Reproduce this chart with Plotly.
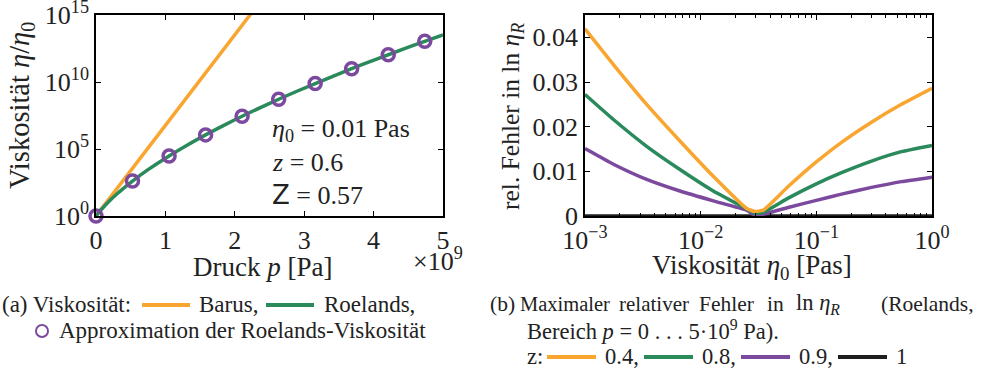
import plotly.graph_objects as go

# ---------------- data: (a) viscosity vs pressure ----------------
pressure_curve = [0, 0.05e9, 0.1e9, 0.2e9, 0.3e9, 0.4e9, 0.526e9, 0.75e9, 1.053e9, 1.3e9,
                  1.579e9, 1.842e9, 2.105e9, 2.368e9, 2.632e9, 2.895e9, 3.158e9, 3.421e9,
                  3.684e9, 3.947e9, 4.211e9, 4.474e9, 4.737e9, 5.0e9]
roelands_curve = [1.0, 2.09, 4.14, 14.3, 43.7, 122, 407, 2.86e3, 3.03e4, 1.76e5,
                  1.13e6, 5.81e6, 2.77e7, 1.22e8, 5.14e8, 2.04e9, 7.69e9, 2.79e10,
                  9.77e10, 3.31e11, 1.08e12, 3.48e12, 1.08e13, 3.27e13]
barus_p = [0, 2.5e9]
barus_eta = [1.0, 8e16]
approx_p = [0, 0.526e9, 1.053e9, 1.579e9, 2.105e9, 2.632e9, 3.158e9, 3.684e9, 4.211e9, 4.737e9]
approx_eta = [1.0, 407, 3.03e4, 1.13e6, 2.77e7, 5.14e8, 7.69e9, 9.77e10, 1.08e12, 1.08e13]
p_tickvals = [0, 1e9, 2e9, 3e9, 4e9, 5e9]
p_ticktext = ["0", "1", "2", "3", "4", "5"]
eta_tickvals = [1e0, 1e5, 1e10, 1e15]
eta_ticktext = ["10<sup>0</sup>", "10<sup>5</sup>", "10<sup>10</sup>", "10<sup>15</sup>"]

# ---------------- data: (b) max. relative error ----------------
eta0 = [1e-3, 1.76e-3, 3.41e-3, 6.62e-3, 1.285e-2, 2.5e-2, 2.95e-2,
        3.48e-2, 5.71e-2, 0.1, 0.1652, 0.300, 0.5445, 1.0]
err_z04 = [0.0419, 0.0339, 0.0250, 0.0168, 0.0089, 0.0017, 0.0010,
           0.0013, 0.0066, 0.0121, 0.0165, 0.0210, 0.0250, 0.0286]
err_z08 = [0.0272, 0.0216, 0.0156, 0.0104, 0.0056, 0.0016, 0.0006,
           0.0008, 0.0040, 0.0072, 0.0097, 0.0123, 0.0144, 0.0158]
err_z09 = [0.0151, 0.0116, 0.0082, 0.0056, 0.0034, 0.0013, 0.0002,
           0.0004, 0.0019, 0.0035, 0.0049, 0.0064, 0.0077, 0.0087]
err_z1 = [0.0] * 14
err_tickvals = [0, 0.01, 0.02, 0.03, 0.04]
err_ticktext = ["0", "0.01", "0.02", "0.03", "0.04"]
eta0_tickvals = [1e-3, 1e-2, 1e-1, 1e0]
eta0_ticktext = ["10<sup>−3</sup>", "10<sup>−2</sup>", "10<sup>−1</sup>", "10<sup>0</sup>"]
eta0_minor = [2e-3, 3e-3, 4e-3, 5e-3, 6e-3, 7e-3, 8e-3, 9e-3,
              2e-2, 3e-2, 4e-2, 5e-2, 6e-2, 7e-2, 8e-2, 9e-2,
              0.2, 0.3, 0.4, 0.5, 0.6, 0.7, 0.8, 0.9]

ORANGE = "#F9A630"
GREEN = "#2A8A5C"
PURPLE = "#7B4A9E"
BLACK = "#1E1E1E"
FONT = "Liberation Serif"
TXT = "#222"

W, H = 985, 370
def px(x):
    return x / W
def py(y):
    return 1 - y / H

fig = go.Figure()
fig.add_trace(go.Scatter(x=barus_p, y=barus_eta, mode="lines",
                         line=dict(color=ORANGE, width=3.5), xaxis="x", yaxis="y"))
fig.add_trace(go.Scatter(x=pressure_curve, y=roelands_curve, mode="lines",
                         line=dict(color=GREEN, width=3.5, shape="spline"), xaxis="x", yaxis="y"))
fig.add_trace(go.Scatter(x=approx_p, y=approx_eta, mode="markers",
                         marker=dict(symbol="circle-open", size=12, color=PURPLE,
                                     line=dict(width=3.5, color=PURPLE)),
                         cliponaxis=False, xaxis="x", yaxis="y"))

for ys, col in [(err_z1, BLACK), (err_z09, PURPLE), (err_z08, GREEN), (err_z04, ORANGE)]:
    fig.add_trace(go.Scatter(x=eta0, y=ys, mode="lines",
                             line=dict(color=col, width=3.5, shape="spline", smoothing=0.4),
                             cliponaxis=False if col == BLACK else True,
                             xaxis="x2", yaxis="y2"))

axis_common = dict(showline=True, linecolor="black", linewidth=1.5, mirror="ticks",
                   ticks="inside", ticklen=5, tickwidth=1, tickcolor="black",
                   showgrid=False, zeroline=False, automargin=False,
                   ticklabeloverflow="allow",
                   tickfont=dict(family=FONT, size=26, color=TXT))

fig.update_layout(
    width=W, height=H, margin=dict(l=0, r=0, t=0, b=0, autoexpand=False),
    paper_bgcolor="white", plot_bgcolor="white", showlegend=False,
    xaxis=dict(domain=[px(96), px(443)], range=[0, 5e9], tickvals=p_tickvals,
               ticktext=p_ticktext, anchor="y", **axis_common),
    yaxis=dict(domain=[py(216), py(15)], type="log", range=[-0.0001, 15.0001],
               tickvals=eta_tickvals, ticktext=eta_ticktext, anchor="x", **axis_common),
    xaxis2=dict(domain=[px(585), px(932)], type="log", range=[-3.0001, 0.0001],
                tickvals=eta0_tickvals, ticktext=eta0_ticktext, anchor="y2",
                minor=dict(tickmode="array", tickvals=eta0_minor, ticks="inside",
                           ticklen=3, tickwidth=1, tickcolor="black", showgrid=False),
                **axis_common),
    yaxis2=dict(domain=[py(216), py(15)], range=[0, 0.045], tickvals=err_tickvals,
                ticktext=err_ticktext, anchor="x2", **axis_common),
)

ann = []
def text(x, y, s, size=26, xanchor="center", angle=0):
    ann.append(dict(x=px(x), y=py(y), xref="paper", yref="paper", text=s, showarrow=False,
                    xanchor=xanchor, yanchor="middle", textangle=angle,
                    font=dict(family=FONT, size=size, color=TXT)))

# axis titles
text(22, 106, "Viskosität <i>η</i>/<i>η</i><sub>0</sub>", size=28.5, angle=-90)
text(262, 267, "Druck <i>p</i> [Pa]", size=27)
text(438, 259, "×10<sup>9</sup>", size=26)
text(512, 117, "rel. Fehler in ln <i>η</i><sub><i>R</i></sub>", size=25.5, angle=-90)
text(752, 267, "Viskosität <i>η</i><sub>0</sub> [Pas]", size=27)

# in-plot parameters
text(270, 130, "<i>η</i><sub>0</sub> = 0.01 Pas", size=26, xanchor="left")
text(270, 163, "<i>z</i> = 0.6", size=26, xanchor="left")
text(270, 195, "<span style='font-family:DejaVu Sans'>Z</span> = 0.57", size=26, xanchor="left")

# caption (a)
CAP = 23
text(0, 304, "(a) Viskosität:", size=CAP, xanchor="left")
text(197, 304, "Barus,", size=CAP, xanchor="left")
text(322, 304, "Roelands,", size=CAP, xanchor="left")
text(57, 330, "Approximation der Roelands-Viskosität", size=CAP, xanchor="left")

# caption (b), justified first line
text(502, 304, "(b)", size=21.5)
text(565, 304, "Maximaler", size=20.5)
text(654, 304, "relativer", size=21)
text(726, 304, "Fehler", size=21.5)
text(775, 304, "in", size=21.5)
text(794, 304, "ln <i>η</i><sub><i>R</i></sub>", size=22.5, xanchor="left")
text(927, 304, "(Roelands,", size=21.5)
text(525, 330, "Bereich <i>p</i> = 0 . . . 5·10<sup>9</sup> Pa).", size=22.5, xanchor="left")
text(525, 356, "z:", size=22.5, xanchor="left")
text(603, 356, "0.4,", size=22.5, xanchor="left")
text(700, 356, "0.8,", size=22.5, xanchor="left")
text(797, 356, "0.9,", size=22.5, xanchor="left")
text(894, 356, "1", size=22.5, xanchor="left")

fig.update_layout(annotations=ann)

shapes = []
def swatch(x0, x1, y, col):
    shapes.append(dict(type="line", xref="paper", yref="paper", x0=px(x0), x1=px(x1),
                       y0=py(y), y1=py(y), line=dict(color=col, width=4)))
swatch(142, 190, 305, ORANGE)
swatch(266, 314, 305, GREEN)
swatch(547, 596, 357, ORANGE)
swatch(644, 693, 357, GREEN)
swatch(741, 790, 357, PURPLE)
swatch(838, 887, 357, BLACK)
shapes.append(dict(type="circle", xref="paper", yref="paper",
                   x0=px(36), x1=px(48), y0=py(337), y1=py(325),
                   line=dict(color=PURPLE, width=2)))
fig.update_layout(shapes=shapes)

fig.write_html("out.html", config={"displayModeBar": False},
               post_script="document.body.style.margin='0';document.body.style.padding='0';")
